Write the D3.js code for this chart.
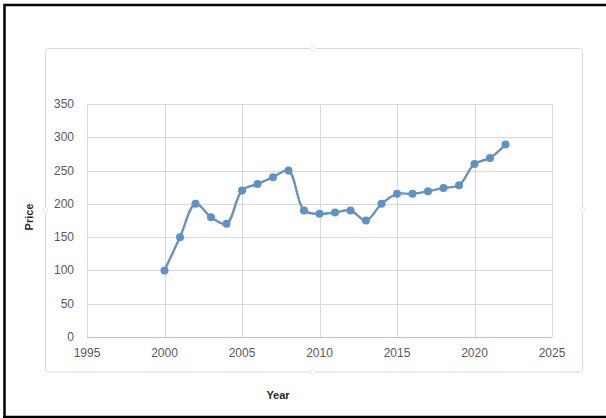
<!DOCTYPE html>
<html><head><meta charset="utf-8">
<script src="https://cdn.jsdelivr.net/npm/d3@7"></script>
<style>html,body{margin:0;padding:0;background:#fff;overflow:hidden}</style>
</head><body>
<svg id="c" width="606" height="418"></svg>
<script>
const years = [2000,2001,2002,2003,2004,2005,2006,2007,2008,2009,2010,2011,2012,2013,2014,2015,2016,2017,2018,2019,2020,2021,2022];
const prices = [100,150,200,180,170,220,230,240,250,190,185,187,190,175,200,215,215,219,224,228,260,269,289];
const xTicks = [1995,2000,2005,2010,2015,2020,2025];
const yTicks = [0,50,100,150,200,250,300,350];
const xTitle = "Year", yTitle = "Price";

const svg = d3.select("#c");
const font = "'Liberation Sans', Arial, sans-serif";

// outer border (left, top, bottom)
svg.append("path").attr("d","M4.5,418 L4.5,5 L606,5").attr("fill","none").attr("stroke","#000").attr("stroke-width",2.5);
svg.append("line").attr("x1",3).attr("x2",606).attr("y1",417).attr("y2",417).attr("stroke","#000").attr("stroke-width",2.5);

// chart frame
svg.append("rect").attr("x",45.5).attr("y",48.5).attr("width",537).attr("height",323.5).attr("rx",3)
  .attr("fill","#fff").attr("stroke","#d9d9d9").attr("stroke-width",1);
[[313,48.5],[313,372],[45.5,210],[582.5,210]].forEach(([cx,cy])=>{
  svg.append("circle").attr("cx",cx).attr("cy",cy).attr("r",2.5).attr("fill","#fff").attr("stroke","#e3e3e3").attr("stroke-width",0.8);
});

const x = d3.scaleLinear().domain([1995,2025]).range([87,552]);
const y = d3.scaleLinear().domain([0,350]).range([337,104]);

// gridlines
const g = svg.append("g");
g.selectAll(".hg").data(yTicks.filter(v=>v>0)).join("line")
  .attr("x1",x(1995)).attr("x2",x(2025)).attr("y1",d=>Math.round(y(d))+0.5).attr("y2",d=>Math.round(y(d))+0.5)
  .attr("stroke","#d9d9d9").attr("stroke-width",1);
g.selectAll(".vg").data(xTicks).join("line")
  .attr("x1",d=>Math.round(x(d))+0.5).attr("x2",d=>Math.round(x(d))+0.5).attr("y1",y(350)).attr("y2",y(0))
  .attr("stroke","#d9d9d9").attr("stroke-width",1);
// x axis line
g.append("line").attr("x1",x(1995)).attr("x2",x(2025)).attr("y1",Math.round(y(0))+0.5).attr("y2",Math.round(y(0))+0.5)
  .attr("stroke","#bfbfbf").attr("stroke-width",1);

// tick labels
svg.selectAll(".yl").data(yTicks).join("text")
  .attr("x",74).attr("y",d=>y(d)+4).attr("text-anchor","end")
  .attr("font-family",font).attr("font-size",12).attr("fill","#595959").text(d=>d);
svg.selectAll(".xl").data(xTicks).join("text")
  .attr("x",d=>x(d)).attr("y",357).attr("text-anchor","middle")
  .attr("font-family",font).attr("font-size",12).attr("fill","#595959").text(d=>d);

// titles
svg.append("text").attr("x",278).attr("y",399).attr("text-anchor","middle")
  .attr("font-family",font).attr("font-size",11).attr("font-weight","bold").attr("fill","#262626").text(xTitle);
svg.append("text").attr("transform","translate(33,217) rotate(-90)").attr("text-anchor","middle")
  .attr("font-family",font).attr("font-size",11).attr("font-weight","bold").attr("fill","#262626").text(yTitle);

// line + markers
const data = years.map((yr,i)=>({yr, v:prices[i]}));
const line = d3.line().x(d=>x(d.yr)).y(d=>y(d.v)).curve(d3.curveCatmullRom.alpha(0.5));
svg.append("path").datum(data).attr("d",line).attr("fill","none")
  .attr("stroke","#6a93ba").attr("stroke-width",2.4).attr("stroke-linejoin","round");
svg.selectAll(".pt").data(data).join("circle")
  .attr("cx",d=>x(d.yr)).attr("cy",d=>y(d.v)).attr("r",4).attr("fill","#5b93c8");
</script>
</body></html>
